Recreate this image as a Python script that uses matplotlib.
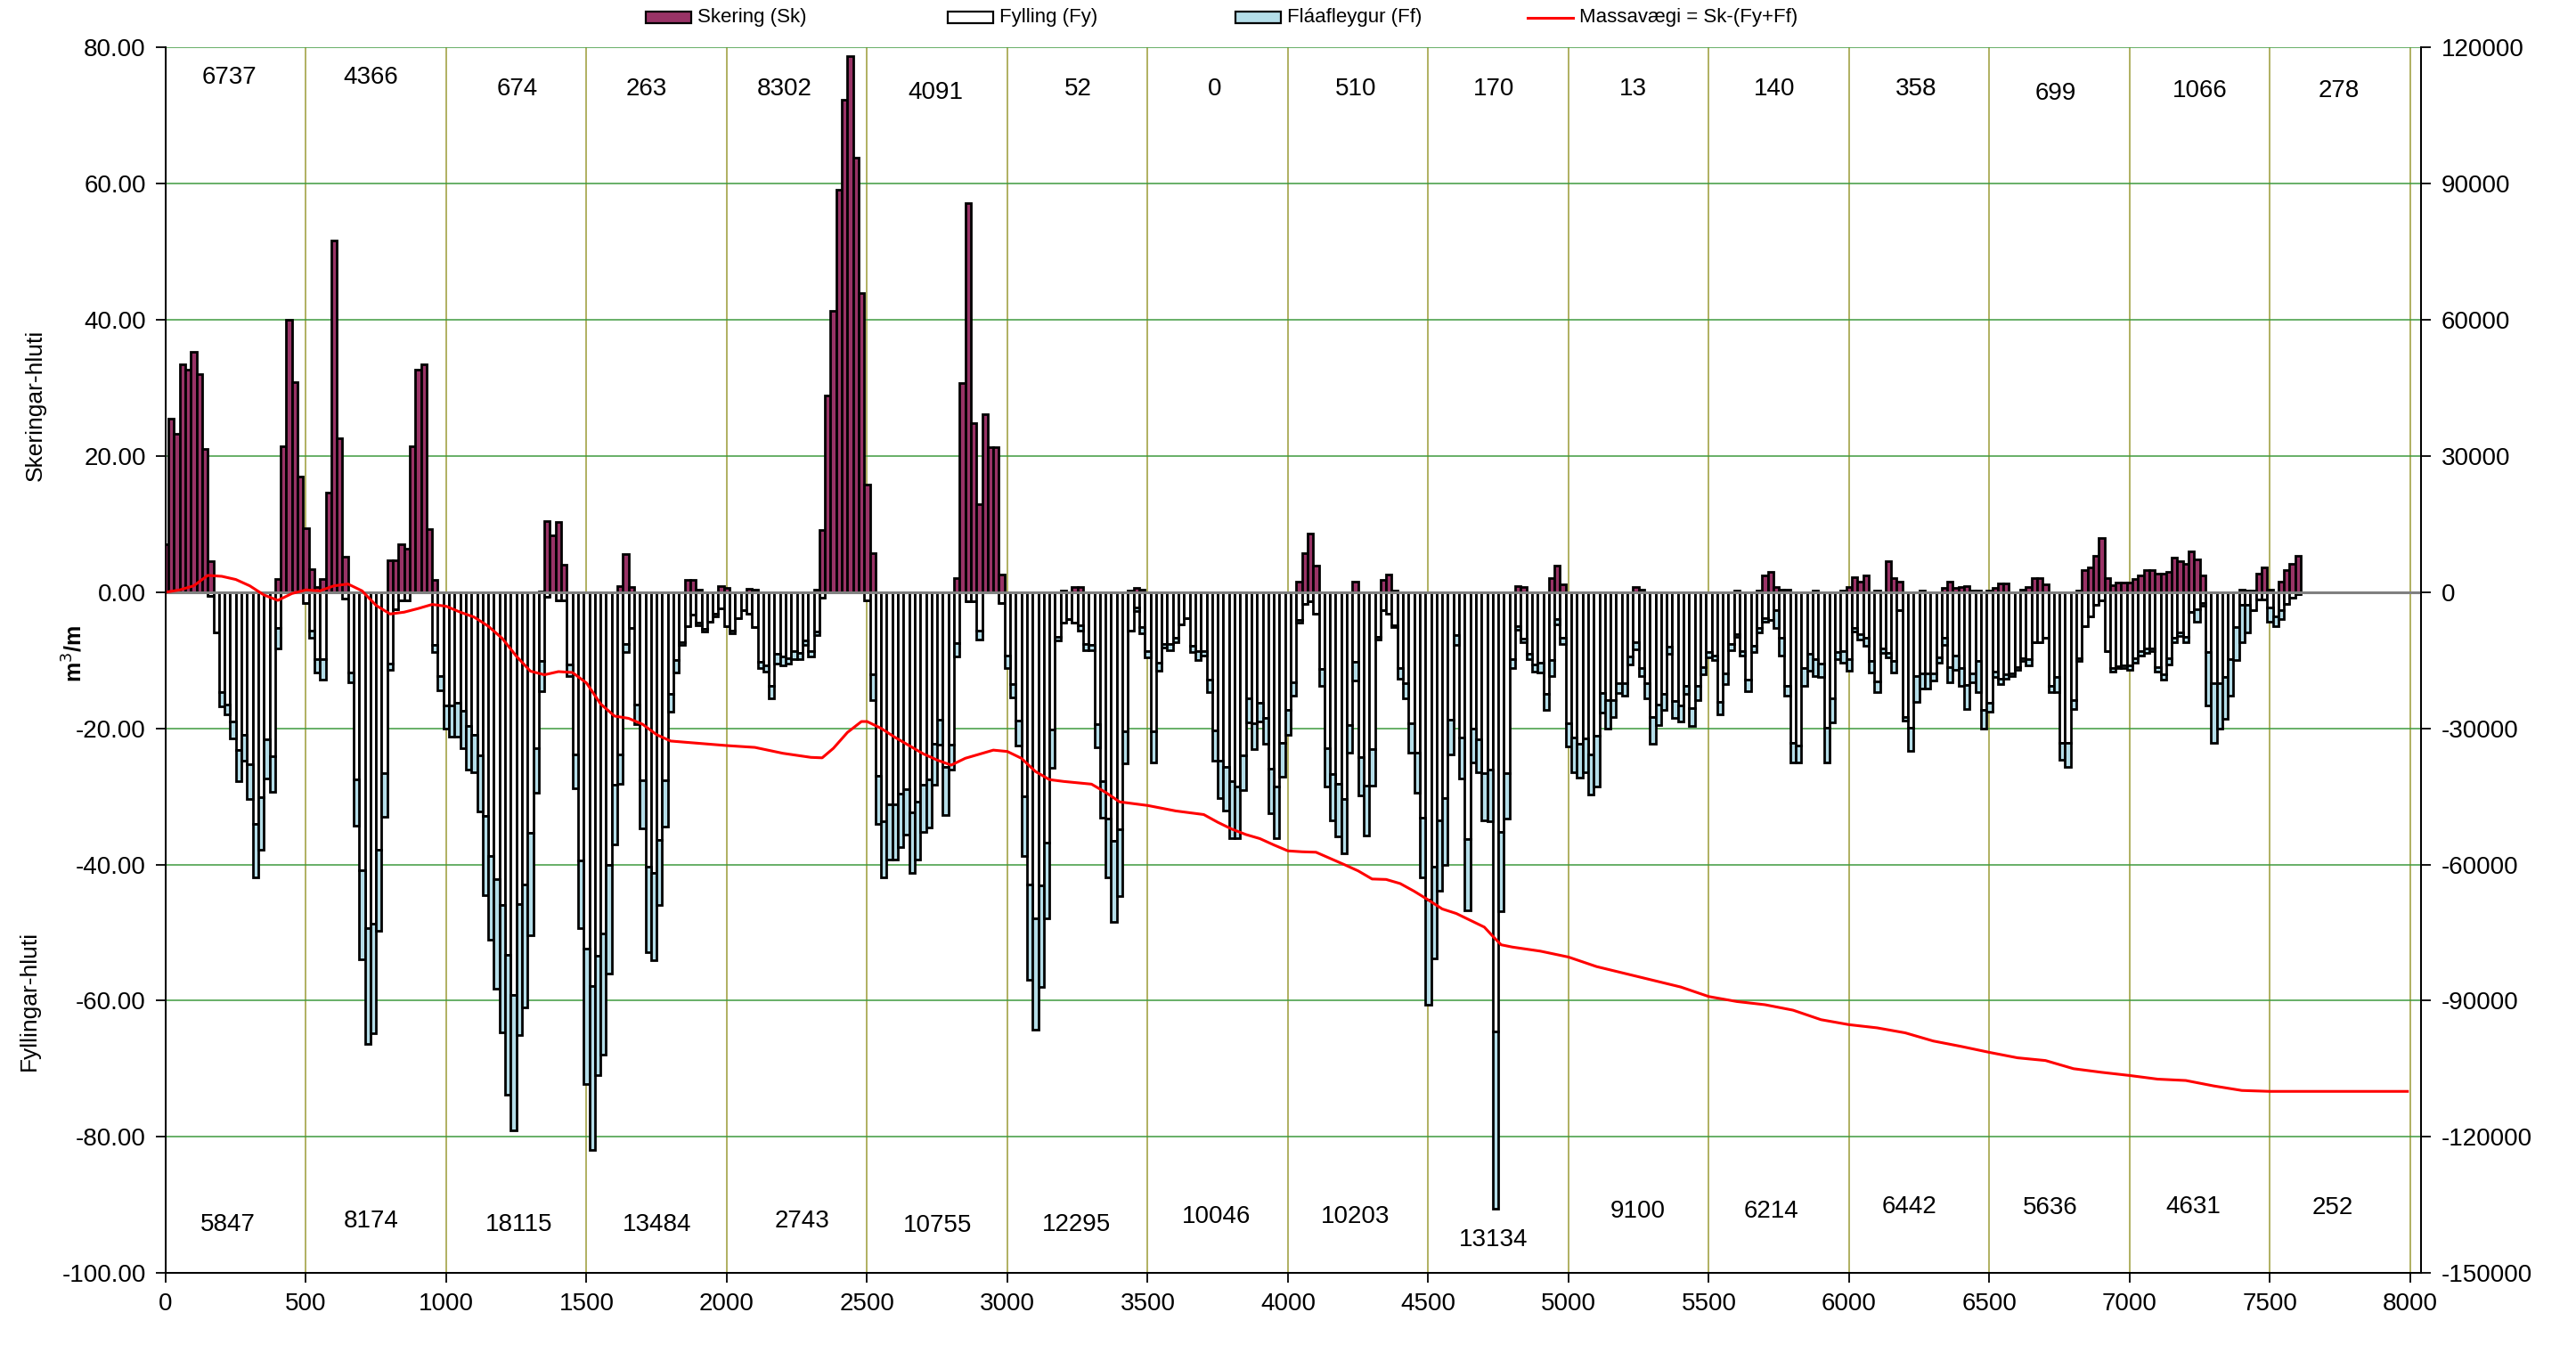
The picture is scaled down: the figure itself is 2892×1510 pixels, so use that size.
import numpy as np
import matplotlib
matplotlib.use("Agg")
import matplotlib.pyplot as plt
from matplotlib.patches import Rectangle
from matplotlib.lines import Line2D

plt.rcParams['font.family'] = ['Liberation Sans', 'DejaVu Sans']

# Stations every 20 m, 0..7600
STEP = 20
stations = np.arange(0, 7601, STEP)

# Cut (Sk), m3/m, one row per 500 m
skering = [
    7.0, 25.5, 23.3, 33.5, 32.7, 35.3, 32.1, 21.1, 4.6, 0, 0, 0, 0, 0, 0, 0, 0, 0, 0, 0, 2.0, 21.5, 40.0, 30.9, 17.0,
    9.4, 3.4, 0.8, 2.0, 14.6, 51.6, 22.6, 5.2, 0, 0, 0, 0, 0, 0, 0, 4.7, 4.7, 7.0, 6.4, 21.4, 32.7, 33.5, 9.3, 1.8, 0,
    0, 0, 0, 0, 0, 0, 0, 0, 0, 0, 0, 0, 0, 0, 0, 0, 0, 0.1, 10.5, 8.4, 10.3, 4.1, 0, 0, 0,
    0, 0, 0, 0, 0, 0, 0.9, 5.6, 0.7, 0, 0, 0, 0, 0, 0, 0, 0, 0, 1.8, 1.8, 0.4, 0, 0, 0, 0.9,
    0.6, 0, 0, 0, 0.5, 0.4, 0, 0, 0, 0, 0, 0, 0, 0, 0, 0, 0.4, 9.1, 28.9, 41.3, 59.1, 72.3, 78.7, 63.8, 43.9,
    15.8, 5.7, 0, 0, 0, 0, 0, 0, 0, 0, 0, 0, 0, 0, 0, 0, 2.1, 30.7, 57.1, 24.8, 12.9, 26.2, 21.3, 21.3, 2.6,
    0, 0, 0, 0, 0, 0, 0, 0, 0, 0, 0.2, 0, 0.8, 0.8, 0, 0, 0, 0, 0, 0, 0, 0, 0.2, 0.6, 0.4,
    0, 0, 0, 0, 0, 0, 0, 0, 0, 0, 0, 0, 0, 0, 0, 0, 0, 0, 0, 0, 0, 0, 0, 0, 0,
    0, 0, 1.5, 5.7, 8.6, 3.9, 0, 0, 0, 0, 0, 0, 1.5, 0, 0, 0, 0, 1.8, 2.6, 0.3, 0, 0, 0, 0, 0,
    0, 0, 0, 0, 0, 0, 0, 0, 0, 0, 0, 0, 0, 0, 0, 0, 0.9, 0.7, 0, 0, 0, 0, 2.1, 3.9, 1.2,
    0, 0, 0, 0, 0, 0, 0, 0, 0, 0, 0, 0, 0.7, 0.4, 0, 0, 0, 0, 0, 0, 0, 0, 0, 0, 0,
    0, 0, 0, 0, 0, 0.3, 0, 0, 0, 0.3, 2.5, 3.0, 0.7, 0.4, 0.4, 0, 0, 0, 0, 0.3, 0, 0, 0, 0, 0.3,
    0.7, 2.2, 1.5, 2.5, 0, 0.3, 0, 4.5, 2.1, 1.6, 0, 0, 0, 0.3, 0, 0, 0, 0.6, 1.6, 0.6, 0.7, 0.9, 0.3, 0.3, 0,
    0.3, 0.6, 1.3, 1.3, 0, 0, 0.4, 0.7, 2.1, 2.1, 1.2, 0, 0, 0, 0, 0, 0.3, 3.2, 3.6, 5.3, 8.0, 2.1, 1.0, 1.4, 1.4,
    1.4, 2.0, 2.5, 3.3, 3.2, 2.7, 2.7, 3.0, 5.1, 4.5, 4.2, 6.0, 4.8, 2.5, 0, 0, 0, 0, 0, 0, 0.4, 0.3, 0.2, 2.7, 3.6,
    0.4, 0, 1.5, 3.2, 4.2, 5.4,
]

# Fill (Fy), m3/m
fylling = [
    0, 0, 0, 0, 0, 0, 0, 0, 0.6, 5.9, 14.7, 16.5, 19.0, 23.2, 21.0, 25.3, 34.0, 30.1, 21.6, 24.1, 5.3, 0, 0, 0, 0,
    1.6, 5.7, 9.8, 9.9, 0, 0, 0, 0.9, 11.8, 27.5, 40.9, 49.3, 48.7, 37.9, 26.6, 10.5, 2.5, 1.2, 1.2, 0, 0, 0, 0, 7.7, 12.3,
    16.7, 16.6, 16.2, 17.4, 19.6, 21.0, 24.0, 32.8, 38.7, 42.2, 46.0, 53.3, 59.2, 45.8, 43.0, 35.4, 22.9, 10.1, 0.7, 0, 1.2, 1.2, 10.6, 23.9, 39.4,
    52.3, 57.9, 53.4, 50.2, 40.0, 28.3, 23.8, 7.6, 5.2, 16.5, 27.6, 40.3, 41.2, 36.4, 27.6, 15.0, 10.0, 7.3, 5.0, 3.3, 4.5, 5.4, 4.4, 3.2, 2.4,
    5.0, 5.6, 3.8, 2.7, 3.2, 5.1, 10.2, 10.7, 13.8, 9.1, 9.5, 9.7, 8.7, 8.9, 7.1, 8.7, 5.8, 0.8, 0, 0, 0, 0, 0, 0, 0,
    1.2, 12.1, 27.0, 33.6, 31.2, 31.2, 29.6, 28.9, 32.4, 30.8, 28.3, 27.5, 22.3, 18.7, 25.7, 22.4, 7.5, 0, 1.3, 1.3, 5.6, 0, 0, 0, 1.6,
    9.3, 13.5, 18.8, 30.0, 42.9, 47.9, 43.1, 36.8, 20.2, 6.5, 4.5, 4.0, 4.5, 4.8, 7.6, 7.8, 19.4, 27.8, 33.3, 36.5, 34.8, 20.4, 5.7, 2.2, 5.1,
    8.6, 20.4, 10.3, 7.6, 7.6, 6.7, 4.7, 3.8, 7.9, 8.6, 8.6, 12.9, 20.3, 24.7, 25.7, 27.7, 28.5, 24.0, 15.6, 19.3, 16.2, 18.5, 25.9, 28.5, 22.1,
    17.3, 13.3, 4.1, 1.7, 1.3, 3.2, 11.3, 22.9, 26.7, 28.2, 30.4, 19.5, 10.2, 24.2, 28.4, 23.0, 6.5, 2.6, 3.2, 4.8, 11.2, 13.4, 19.3, 23.6, 33.1,
    45.1, 40.3, 33.5, 30.2, 18.7, 6.3, 21.3, 36.3, 20.1, 21.6, 26.6, 26.1, 64.5, 35.2, 26.6, 9.8, 5.0, 6.8, 9.1, 10.6, 10.3, 15.0, 10.0, 4.0, 6.7,
    19.2, 21.4, 22.3, 21.5, 23.8, 21.1, 14.8, 15.9, 15.9, 13.4, 13.4, 9.5, 7.4, 11.1, 13.4, 18.4, 16.5, 15.0, 8.0, 16.0, 16.7, 13.8, 17.0, 13.8, 11.0,
    8.8, 9.3, 16.1, 11.9, 7.6, 6.2, 8.6, 12.8, 7.9, 5.3, 3.8, 4.1, 2.7, 6.7, 13.7, 22.1, 22.5, 11.2, 9.0, 9.8, 10.5, 19.9, 15.6, 8.8, 8.6,
    9.9, 5.3, 6.2, 6.7, 10.1, 13.1, 8.3, 8.9, 10.1, 2.7, 18.4, 19.9, 12.3, 11.9, 11.9, 11.9, 9.6, 6.7, 11.0, 9.3, 11.2, 13.6, 11.9, 10.1, 17.3,
    16.2, 11.7, 12.7, 12.1, 11.9, 11.0, 9.7, 9.9, 7.3, 7.3, 6.7, 13.8, 12.5, 22.2, 22.2, 15.8, 9.7, 5.0, 3.5, 1.9, 1.2, 8.7, 11.2, 10.9, 10.8,
    10.8, 9.7, 8.6, 8.3, 8.2, 11.0, 12.1, 9.7, 6.7, 5.9, 6.6, 2.9, 2.5, 1.6, 8.8, 13.4, 13.4, 12.4, 9.8, 5.1, 1.9, 1.8, 2.7, 1.1, 1.1,
    2.2, 3.6, 2.7, 1.7, 0.8, 0.3,
]

# Side-slope wedge (Ff), m3/m, stacked below the fill
flaafleygur = [
    0, 0, 0, 0, 0, 0, 0, 0, 0, 0, 2.1, 1.5, 2.5, 4.5, 3.7, 5.1, 7.9, 7.7, 5.8, 5.2, 2.9, 0, 0, 0, 0,
    0, 1.0, 2.0, 2.9, 0, 0, 0, 0, 1.5, 6.8, 13.0, 17.0, 16.1, 11.9, 6.4, 0.9, 0, 0, 0, 0, 0, 0, 0, 1.1, 2.1,
    3.3, 4.6, 5.0, 5.5, 6.4, 5.4, 8.2, 11.7, 12.3, 16.1, 18.7, 20.5, 19.8, 19.2, 18.0, 15.0, 6.5, 4.5, 0, 0, 0, 0, 1.7, 4.9, 10.0,
    19.9, 24.0, 17.6, 17.7, 16.0, 8.7, 4.4, 1.2, 0, 2.9, 7.1, 12.6, 12.8, 9.5, 6.8, 2.6, 1.8, 0.5, 0, 0, 0.3, 0.4, 0, 0.4, 0,
    0, 0.5, 0, 0, 0, 0, 1.0, 1.0, 1.8, 1.4, 1.2, 0.8, 1.2, 1.0, 0.6, 0.8, 0.5, 0, 0, 0, 0, 0, 0, 0, 0,
    0, 3.7, 7.0, 8.3, 8.1, 8.1, 7.9, 6.7, 8.9, 8.5, 6.9, 7.1, 6.0, 3.7, 7.0, 3.6, 2.0, 0, 0, 0, 1.3, 0, 0, 0, 0,
    1.8, 2.0, 3.7, 8.7, 14.1, 16.4, 14.9, 11.1, 5.6, 0.6, 0, 0, 0, 0.9, 0.9, 0.7, 3.4, 5.3, 8.6, 11.9, 9.8, 4.8, 0, 0.6, 1.0,
    1.0, 4.6, 1.2, 0.5, 0.9, 0.6, 0, 0, 0.9, 1.4, 0.7, 1.8, 4.4, 5.6, 6.4, 8.5, 7.6, 5.1, 3.5, 3.7, 2.8, 3.8, 6.6, 7.6, 5.0,
    3.6, 1.9, 0.4, 0, 0, 0, 2.5, 5.6, 6.8, 7.7, 7.9, 4.1, 2.8, 5.6, 7.4, 5.4, 0.4, 0, 0, 0.3, 1.5, 2.2, 4.3, 5.9, 8.8,
    15.5, 13.5, 10.4, 9.9, 5.2, 1.5, 6.1, 10.4, 4.9, 4.9, 6.9, 7.6, 26.1, 11.7, 6.7, 1.3, 0.5, 0.5, 0.8, 1.1, 1.5, 2.3, 2.3, 0.7, 0.9,
    3.4, 5.0, 5.0, 4.9, 5.9, 7.4, 2.9, 4.1, 2.4, 1.4, 1.8, 1.1, 1.0, 1.2, 2.2, 3.9, 3.0, 2.3, 1.0, 2.5, 2.3, 1.2, 2.7, 2.1, 1.0,
    0.8, 0.7, 1.8, 1.6, 0.9, 0.4, 0.7, 1.7, 0.9, 0.6, 0.6, 0, 2.6, 2.6, 1.5, 2.9, 2.5, 2.6, 2.6, 2.5, 2.0, 5.1, 3.5, 1.1, 1.7,
    1.6, 0.5, 0.8, 1.2, 1.7, 1.6, 0.6, 0.7, 1.7, 0, 0.4, 3.4, 3.8, 2.2, 2.2, 1.1, 0.7, 1.0, 2.3, 2.1, 2.6, 3.5, 1.4, 4.6, 2.7,
    1.3, 0.8, 0.8, 0.6, 0.4, 0.4, 0.4, 0.9, 0, 0, 0, 0.9, 2.2, 2.4, 3.5, 1.3, 0.4, 0, 0, 0, 0, 0, 0.5, 0.3, 0.4,
    0.6, 0.6, 0.7, 0.6, 0.5, 0.7, 0.7, 0.9, 0.6, 0.5, 0.7, 0, 1.9, 0.4, 7.9, 8.7, 6.6, 6.2, 5.4, 4.9, 5.5, 4.1, 0, 0, 0,
    2.1, 1.4, 1.3, 0, 0, 0,
]

# Mass balance Sk-(Fy+Ff), cumulative m3 (right axis)
massa_st = [0, 50, 100, 150, 200, 250, 300, 350, 400, 450, 500, 550, 600, 650, 700, 750, 800, 850, 900, 950,
            1000, 1050, 1100, 1150, 1200, 1250, 1300, 1350, 1400, 1450, 1500, 1550, 1600, 1650, 1700, 1750, 1800,
            1900, 2000, 2100, 2200, 2300, 2340, 2380, 2430, 2480, 2500, 2550, 2600, 2650, 2700, 2750, 2800, 2850,
            2900, 2950, 3000, 3050, 3100, 3150, 3200, 3300, 3350, 3400, 3500, 3600, 3700, 3750, 3800, 3850, 3900,
            3950, 4000, 4050, 4100, 4200, 4250, 4300, 4350, 4400, 4450, 4500, 4550, 4600, 4650, 4700, 4730, 4760,
            4800, 4900, 5000, 5100, 5200, 5300, 5400, 5500, 5600, 5700, 5800, 5900, 6000, 6100, 6200, 6300, 6400,
            6500, 6600, 6700, 6800, 6900, 7000, 7100, 7200, 7300, 7400, 7500, 7990]
massa = [0, 500, 1400, 3700, 3500, 2800, 1400, -600, -1800, -300, 500, 300, 1400, 1800, 300, -2900, -4800, -4400,
         -3600, -2700, -3100, -4400, -5500, -7500, -10200, -14100, -17400, -18200, -17500, -17700, -20000, -24600,
         -27300, -27800, -29100, -31400, -32800, -33300, -33800, -34200, -35500, -36400, -36500, -34400, -30900,
         -28500, -28500, -30000, -32000, -33800, -35600, -37000, -38100, -36600, -35700, -34800, -35100, -36600,
         -39500, -41300, -41700, -42300, -44100, -46200, -47000, -48200, -49000, -50700, -52200, -53400, -54300,
         -55700, -57000, -57200, -57300, -60000, -61400, -63200, -63300, -64200, -65900, -67800, -69800, -70800,
         -72300, -73800, -75800, -77700, -78200, -79100, -80400, -82500, -84000, -85500, -87000, -89100, -90200,
         -90900, -92100, -94200, -95300, -96000, -97100, -98900, -100100, -101400, -102600, -103200, -105000,
         -105800, -106500, -107300, -107600, -108800, -109800, -110000, -110000]

# Section totals per 500 m (m3)
cut_totals = [6737, 4366, 674, 263, 8302, 4091, 52, 0, 510, 170, 13, 140, 358, 699, 1066, 278]
fill_totals = [5847, 8174, 18115, 13484, 2743, 10755, 12295, 10046, 10203, 13134, 9100, 6214, 6442, 5636, 4631, 252]

# where the section totals are written
cut_lx = [228, 731, 1252, 1714, 2206, 2744, 3253, 3739, 4242, 4734, 5231, 5734, 6238, 6735, 7250, 7747]
cut_ly = [75.6, 75.6, 73.9, 73.9, 73.9, 73.4, 73.9, 73.9, 73.9, 73.9, 73.9, 73.9, 73.9, 73.2, 73.7, 73.7]
fill_lx = [222, 731, 1258, 1750, 2270, 2750, 3247, 3744, 4241, 4733, 5248, 5722, 6214, 6717, 7226, 7724]
fill_ly = [-92.9, -92.4, -92.9, -92.9, -92.4, -93.1, -92.9, -91.7, -91.7, -95.1, -91.0, -91.0, -90.3, -90.5, -90.3, -90.5]

C_SK = '#993366'
C_FY = '#ffffff'
C_FF = '#b4dde8'
EDGE_W = 2.0

sk = np.array(skering)
fy = np.array(fylling)
ff = np.array(flaafleygur)

fig = plt.figure(figsize=(28.92, 15.10), dpi=100)
ax = fig.add_axes([0.0643, 0.0536, 0.8757, 0.911])

ax.bar(stations, -fy, width=STEP, color=C_FY, edgecolor='black', linewidth=EDGE_W, zorder=2)
ax.bar(stations, -ff, bottom=-fy, width=STEP, color=C_FF, edgecolor='black', linewidth=EDGE_W, zorder=2)
ax.bar(stations, sk, width=STEP, color=C_SK, edgecolor='black', linewidth=EDGE_W, zorder=2)
ax.axhline(0, color='#808080', lw=2.2, zorder=3)

ax.set_xlim(0, 8040)
ax.set_ylim(-100, 80)
ax.set_xticks(np.arange(0, 8001, 500))
ax.set_yticks(np.arange(-100, 81, 20))
ax.yaxis.set_major_formatter(matplotlib.ticker.FormatStrFormatter('%.2f'))
ax.set_axisbelow(True)
ax.yaxis.grid(True, color='#3f9a3f', lw=1.1)
ax.xaxis.grid(True, color='#aaaa55', lw=1.3)
ax.spines['top'].set_visible(False)
for s in ('left', 'bottom', 'right'):
    ax.spines[s].set_linewidth(1.4)
ax.tick_params(axis='both', direction='out', length=8, width=1.3, labelsize=20, pad=8)

ax2 = ax.twinx()
ax2.set_ylim(-150000, 120000)
ax2.set_yticks(np.arange(-150000, 120001, 30000))
ax2.yaxis.set_major_formatter(matplotlib.ticker.FormatStrFormatter('%d'))
ax2.spines['top'].set_visible(False)
ax2.spines['right'].set_linewidth(1.4)
ax2.tick_params(axis='y', direction='out', length=8, width=1.3, labelsize=20, pad=8)
ax2.plot(massa_st, massa, color='#ff0000', lw=2.2)

for x, y, v in zip(cut_lx, cut_ly, cut_totals):
    ax.text(x, y, str(v), ha='center', va='center', fontsize=20)
for x, y, v in zip(fill_lx, fill_ly, fill_totals):
    ax.text(x, y, str(v), ha='center', va='center', fontsize=20)

fig.text(0.0138, 0.699, 'Skeringar-hluti', rotation=90, ha='center', va='center', fontsize=19)
fig.text(0.0287, 0.514, 'm$^3$/m', rotation=90, ha='center', va='center', fontsize=18, fontweight='bold')
fig.text(0.0114, 0.256, 'Fyllingar-hluti', rotation=90, ha='center', va='center', fontsize=19)

# legend along the top edge
leg_y = 0.987
items = [(0.2507, 'patch', C_SK, 'Skering (Sk)'),
         (0.3679, 'patch', C_FY, 'Fylling (Fy)'),
         (0.4796, 'patch', C_FF, 'Fláafleygur (Ff)'),
         (0.5930, 'line', '#ff0000', 'Massavægi = Sk-(Fy+Ff)')]
pw = 0.0175
ph = 0.009
for x0, kind, col, lab in items:
    if kind == 'patch':
        fig.add_artist(Rectangle((x0, leg_y - ph / 2), pw, ph, transform=fig.transFigure,
                                 facecolor=col, edgecolor='black', lw=1.6))
    else:
        fig.add_artist(Line2D([x0, x0 + pw], [leg_y, leg_y], transform=fig.transFigure,
                              color=col, lw=2.2))
    fig.text(x0 + pw + 0.0025, leg_y, lab, ha='left', va='center', fontsize=16)

fig.savefig('out.png', dpi=100)
